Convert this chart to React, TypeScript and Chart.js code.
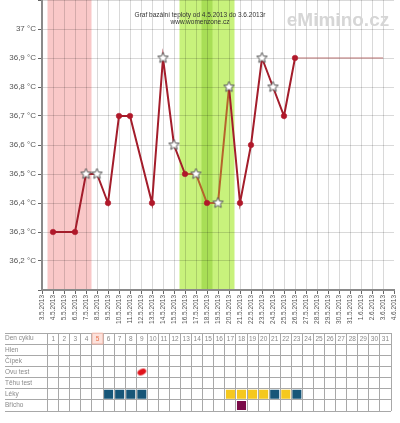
import { useEffect, useRef } from "react";
import { Chart, registerables } from "chart.js";

Chart.register(...registerables);

// date axis of the chart
const dateLabels = [
  "3.5.2013", "4.5.2013", "5.5.2013", "6.5.2013", "7.5.2013", "8.5.2013",
  "9.5.2013", "10.5.2013", "11.5.2013", "12.5.2013", "13.5.2013", "14.5.2013",
  "15.5.2013", "16.5.2013", "17.5.2013", "18.5.2013", "19.5.2013", "20.5.2013",
  "21.5.2013", "22.5.2013", "23.5.2013", "24.5.2013", "25.5.2013", "26.5.2013",
  "27.5.2013", "28.5.2013", "29.5.2013", "30.5.2013", "31.5.2013", "1.6.2013",
  "2.6.2013", "3.6.2013", "4.6.2013",
];

// measured basal temperature (null = not measured)
const temps = [
  null, 36.3, null, 36.3, 36.5, 36.5, 36.4, 36.7, 36.7, null, 36.4, 36.9,
  36.6, 36.5, 36.5, 36.4, 36.4, 36.8, 36.4, 36.6, 36.9, 36.8, 36.7, 36.9,
  null, null, null, null, null, null, null, null, null,
];

// thin continuation line to the end of the cycle
const outlook = [
  null, null, null, null, null, null, null, null, null, null, null, null,
  null, null, null, null, null, null, null, null, null, null, null, 36.9,
  null, null, null, null, null, null, null, 36.9, null,
];

// days marked with a star
const starDays = [
  "7.5.2013", "8.5.2013", "14.5.2013", "15.5.2013", "17.5.2013",
  "19.5.2013", "20.5.2013", "23.5.2013", "24.5.2013",
];

const periodRange = ["4.5.2013", "7.5.2013"];
const fertileRange = ["16.5.2013", "20.5.2013"];
const ovulationDay = "18.5.2013";

const title = "Graf bazální teploty od 4.5.2013 do 3.6.2013r";
const subtitle = "www.womenzone.cz";
const watermark = "eMimino.cz";

// table under the chart
const tableRows = ["Den cyklu", "Hlen", "Čípek", "Ovu test", "Těhu test", "Léky", "Břicho"];
const cycleDays = [
  1, 2, 3, 4, 5, 6, 7, 8, 9, 10, 11, 12, 13, 14, 15, 16,
  17, 18, 19, 20, 21, 22, 23, 24, 25, 26, 27, 28, 29, 30, 31,
];
const todayDay = 5;
const ovuTestDays = [9];
const lekyBlueDays = [6, 7, 8, 9, 21, 23];
const lekyYellowDays = [17, 18, 19, 20, 22];
const brichoDays = [18];

const FONT = "'Liberation Sans', Arial, sans-serif";

function makeStar() {
  const c = document.createElement("canvas");
  c.width = 13;
  c.height = 13;
  const g = c.getContext("2d")!;
  g.beginPath();
  for (let i = 0; i < 10; i++) {
    const r = i % 2 === 0 ? 5.6 : 2.5;
    const a = -Math.PI / 2 + (i * Math.PI) / 5;
    const px = 6.5 + r * Math.cos(a);
    const py = 6.5 + r * Math.sin(a);
    if (i === 0) g.moveTo(px, py);
    else g.lineTo(px, py);
  }
  g.closePath();
  g.fillStyle = "#ffffff";
  g.fill();
  g.strokeStyle = "#555555";
  g.lineWidth = 1;
  g.stroke();
  return c;
}

// tilted red blob used for the ovulation test
function makeOval() {
  const c = document.createElement("canvas");
  c.width = 11;
  c.height = 9;
  const g = c.getContext("2d")!;
  g.beginPath();
  g.ellipse(5.5, 4.5, 4.6, 3, -0.4, 0, Math.PI * 2);
  g.fillStyle = "#e0141c";
  g.fill();
  return c;
}

const bandsPlugin = {
  id: "bands",
  beforeDraw(chart: any) {
    const { ctx, chartArea, scales } = chart;
    const x = scales.x;
    const step = x.getPixelForValue(1) - x.getPixelForValue(0);
    const band = (from: string, to: string, color: string) => {
      const x0 = x.getPixelForValue(dateLabels.indexOf(from)) - step / 2;
      const x1 = x.getPixelForValue(dateLabels.indexOf(to)) + step / 2;
      ctx.fillStyle = color;
      ctx.fillRect(x0, chartArea.top, x1 - x0, chartArea.bottom - chartArea.top);
    };
    ctx.save();
    band(periodRange[0], periodRange[1], "#f9c8c8");
    band(fertileRange[0], fertileRange[1], "#c8f27c");
    band(ovulationDay, ovulationDay, "#a8de56");
    ctx.restore();
  },
  beforeDatasetsDraw(chart: any) {
    const { ctx, chartArea } = chart;
    ctx.save();
    ctx.textAlign = "center";
    ctx.textBaseline = "middle";
    ctx.fillStyle = "#333";
    ctx.font = `6.5px ${FONT}`;
    ctx.fillText(title, 200, 15);
    ctx.fillText(subtitle, 200, 22);
    ctx.fillStyle = "#d6d6d6";
    ctx.font = `bold 19px ${FONT}`;
    ctx.fillText(watermark, chartArea.right - 56, 21);
    ctx.restore();
  },
};

const headerPlugin = {
  id: "header",
  afterDatasetsDraw(chart: any) {
    const { ctx, scales } = chart;
    ctx.save();
    ctx.textAlign = "center";
    ctx.textBaseline = "middle";
    ctx.font = `6.5px ${FONT}`;
    const yy = scales.y.getPixelForValue(0);
    cycleDays.forEach((d) => {
      ctx.fillStyle = d === todayDay ? "#e8704a" : "#888";
      ctx.fillText(String(d), scales.x.getPixelForValue(d), yy + 0.5);
    });
    ctx.restore();
  },
};

function TempChart() {
  const ref = useRef<HTMLCanvasElement>(null);

  useEffect(() => {
    if (!ref.current) return;
    const star = makeStar();
    const fertileFrom = dateLabels.indexOf(fertileRange[0]);
    const fertileTo = dateLabels.indexOf(fertileRange[1]);

    const chart = new Chart(ref.current, {
      type: "line",
      data: {
        labels: dateLabels,
        datasets: [
          {
            label: "teplota",
            data: temps,
            spanGaps: true,
            borderColor: "#a31d2b",
            borderWidth: 2,
            pointRadius: 2.8,
            pointBorderWidth: 0.5,
            pointStyle: (c: any) =>
              starDays.includes(dateLabels[c.dataIndex]) ? star : "circle",
            pointBackgroundColor: "#b0182a",
            pointBorderColor: "#b0182a",
            segment: {
              borderWidth: (c: any) => (c.p1DataIndex - c.p0DataIndex > 1 ? 1 : 2),
              borderColor: (c: any) => {
                if (c.p1DataIndex - c.p0DataIndex > 1) return "#c06a6a";
                if (c.p0DataIndex >= fertileFrom && c.p1DataIndex <= fertileTo) return "#b5642c";
                return "#a31d2b";
              },
            },
            order: 1,
          },
          {
            label: "výhled",
            data: outlook,
            spanGaps: true,
            borderColor: "#b87070",
            borderWidth: 1,
            pointRadius: 0,
            order: 2,
          },
        ],
      },
      options: {
        animation: false,
        responsive: true,
        maintainAspectRatio: false,
        events: [],
        layout: { autoPadding: false, padding: { left: 0, right: 6, top: 0, bottom: 0 } },
        plugins: { legend: { display: false }, tooltip: { enabled: false } },
        scales: {
          x: {
            offset: false,
            afterFit: (s: any) => {
              s.height = 38;
              s.paddingLeft = 0;
              s.paddingRight = 0;
            },
            grid: {
              color: (c: any) => (c.index === dateLabels.length - 1 ? "rgba(0,0,0,0)" : "rgba(0,0,0,0.15)"),
              tickColor: "#666",
              tickLength: 4,
            },
            border: { color: "#8a8a8a", width: 2 },
            ticks: {
              autoSkip: false,
              minRotation: 90,
              maxRotation: 90,
              padding: 1,
              color: "#555",
              font: { family: FONT, size: 6.5 },
            },
          },
          y: {
            min: 36.1,
            max: 37.1,
            afterFit: (s: any) => {
              s.width = 42;
              s.paddingTop = 0;
              s.paddingBottom = 0;
            },
            grid: { color: "rgba(0,0,0,0.15)", tickColor: "#666", tickLength: 4 },
            border: { color: "#8a8a8a", width: 2 },
            ticks: {
              stepSize: 0.1,
              padding: 2,
              color: "#555",
              font: { family: FONT, size: 8 },
              callback: (v: any) => {
                const n = Math.round(Number(v) * 10) / 10;
                if (n <= 36.1 || n >= 37.1) return "";
                return n.toFixed(1).replace(".", ",").replace(",0", "") + " °C";
              },
            },
          },
        },
      },
      plugins: [bandsPlugin],
    });
    return () => chart.destroy();
  }, []);

  return (
    <div style={{ position: "relative", width: 400, height: 328 }}>
      <canvas ref={ref} />
    </div>
  );
}

function CycleTable() {
  const ref = useRef<HTMLCanvasElement>(null);

  useEffect(() => {
    if (!ref.current) return;
    const oval = makeOval();
    const cell = (days: number[], row: string) => days.map((d) => ({ x: d, y: row }));
    const chart = new Chart(ref.current, {
      type: "scatter",
      data: {
        datasets: [
          {
            label: "dnes",
            data: cell([todayDay], tableRows[0]),
            pointStyle: "rect",
            pointRadius: 7.6,
            pointBackgroundColor: "#fde2dc",
            pointBorderColor: "#f2b8aa",
            pointBorderWidth: 1,
          },
          {
            label: "Ovu test",
            data: cell(ovuTestDays, "Ovu test"),
            pointStyle: oval,
            pointRadius: 4,
          },
          {
            label: "Léky modré",
            data: cell(lekyBlueDays, "Léky"),
            pointStyle: "rect",
            pointRadius: 6.4,
            pointBackgroundColor: "#175678",
            pointBorderColor: "#175678",
            pointBorderWidth: 0,
          },
          {
            label: "Léky žluté",
            data: cell(lekyYellowDays, "Léky"),
            pointStyle: "rect",
            pointRadius: 6.4,
            pointBackgroundColor: "#f5c81e",
            pointBorderColor: "#f5c81e",
            pointBorderWidth: 0,
          },
          {
            label: "Břicho",
            data: cell(brichoDays, "Břicho"),
            pointStyle: "rect",
            pointRadius: 6.4,
            pointBackgroundColor: "#7a0a48",
            pointBorderColor: "#7a0a48",
            pointBorderWidth: 0,
          },
        ],
      },
      options: {
        animation: false,
        responsive: true,
        maintainAspectRatio: false,
        events: [],
        layout: { autoPadding: false, padding: { left: 5, right: 9, top: 5, bottom: 12 } },
        plugins: { legend: { display: false }, tooltip: { enabled: false } },
        scales: {
          x: {
            type: "linear",
            min: 0.5,
            max: 31.5,
            afterBuildTicks: (s: any) => {
              s.ticks = [0.5, ...cycleDays.map((d) => d + 0.5)].map((v) => ({ value: v }));
            },
            afterFit: (s: any) => {
              s.height = 0;
              s.paddingLeft = 0;
              s.paddingRight = 0;
            },
            grid: { color: "#a8a8a8", drawTicks: false },
            border: { display: false },
            ticks: { display: false },
          },
          y: {
            type: "category",
            labels: tableRows,
            offset: true,
            afterFit: (s: any) => {
              s.width = 42.7;
              s.paddingTop = 0;
              s.paddingBottom = 0;
            },
            grid: { offset: true, color: "#a8a8a8", tickColor: "#a8a8a8", tickLength: 42.7 },
            border: { color: "#a8a8a8" },
            ticks: {
              autoSkip: false,
              crossAlign: "far",
              color: "#8a8a8a",
              font: { family: FONT, size: 6.5 },
            },
          },
        },
      },
      plugins: [headerPlugin],
    });
    return () => chart.destroy();
  }, []);

  return (
    <div style={{ position: "relative", width: 400, height: 95 }}>
      <canvas ref={ref} />
    </div>
  );
}

export default function App() {
  return (
    <div style={{ position: "absolute", left: 0, top: 0, width: 400, background: "#fff" }}>
      <TempChart />
      <CycleTable />
    </div>
  );
}
